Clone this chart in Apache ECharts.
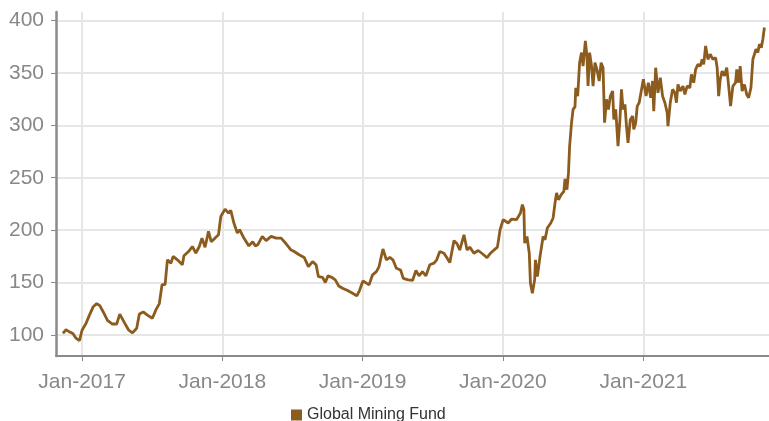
<!DOCTYPE html>
<html>
<head>
<meta charset="utf-8">
<script src="https://cdn.jsdelivr.net/npm/echarts@6/dist/echarts.min.js"></script>
<style>
html,body{margin:0;padding:0;background:#fff;}
#chart{width:769px;height:421px;}
</style>
</head>
<body>
<div id="chart"></div>
<script>
const seriesName = 'Global Mining Fund';
const dates = [
'2016-11-12','2016-11-20','2016-11-29','2016-12-08','2016-12-16','2016-12-25',
'2017-01-01','2017-01-11','2017-01-20','2017-01-30','2017-02-08','2017-02-16','2017-02-25','2017-03-08','2017-03-21','2017-04-01','2017-04-09','2017-04-21','2017-05-02','2017-05-12','2017-05-23','2017-05-30','2017-06-09','2017-06-20','2017-07-03','2017-07-12','2017-07-21','2017-07-28','2017-08-05','2017-08-11','2017-08-20','2017-08-26','2017-09-06','2017-09-19','2017-09-23','2017-10-05','2017-10-15','2017-10-24','2017-11-02','2017-11-09','2017-11-17','2017-11-26','2017-12-03','2017-12-13','2017-12-22','2017-12-28',
'2018-01-08','2018-01-17','2018-01-23','2018-01-31','2018-02-09','2018-02-15','2018-02-26','2018-03-11','2018-03-21','2018-03-28','2018-04-03','2018-04-15','2018-04-25','2018-05-08','2018-05-21','2018-06-03','2018-06-16','2018-06-29','2018-07-07','2018-07-20','2018-08-02','2018-08-13','2018-08-24','2018-09-02','2018-09-08','2018-09-19','2018-09-26','2018-10-03','2018-10-13','2018-10-22','2018-10-31','2018-11-10','2018-11-23','2018-12-06','2018-12-17','2018-12-24',
'2019-01-02','2019-01-18','2019-01-27','2019-02-06','2019-02-13','2019-02-23','2019-03-04','2019-03-13','2019-03-21','2019-03-30','2019-04-10','2019-04-17','2019-04-30','2019-05-11','2019-05-20','2019-05-28','2019-06-06','2019-06-15','2019-06-25','2019-07-06','2019-07-13','2019-07-21','2019-08-01','2019-08-08','2019-08-16','2019-08-27','2019-09-04','2019-09-11','2019-09-22','2019-09-30','2019-10-07','2019-10-18','2019-10-29','2019-11-09','2019-11-21','2019-11-30','2019-12-09','2019-12-18','2019-12-25',
'2020-01-02','2020-01-15','2020-01-24','2020-02-06','2020-02-16','2020-02-21','2020-02-25','2020-02-27','2020-03-04','2020-03-10','2020-03-13','2020-03-18','2020-03-24','2020-03-26','2020-03-31','2020-04-07','2020-04-11','2020-04-15','2020-04-20','2020-04-26','2020-05-05','2020-05-11','2020-05-16','2020-05-20','2020-05-25','2020-06-01','2020-06-08','2020-06-11','2020-06-16','2020-06-20','2020-06-23','2020-06-28','2020-07-02','2020-07-07','2020-07-09','2020-07-14','2020-07-19','2020-07-24','2020-07-28','2020-08-03','2020-08-07','2020-08-10','2020-08-14','2020-08-19','2020-08-23','2020-08-28','2020-09-02','2020-09-08','2020-09-13','2020-09-18','2020-09-22','2020-09-27','2020-10-02','2020-10-07','2020-10-13','2020-10-16','2020-10-21','2020-10-27','2020-11-01','2020-11-05','2020-11-09','2020-11-14','2020-11-18','2020-11-22','2020-11-28','2020-12-04','2020-12-07','2020-12-12','2020-12-16','2020-12-21',
'2021-01-01','2021-01-08','2021-01-14','2021-01-20','2021-01-25','2021-01-28','2021-02-02','2021-02-08','2021-02-14','2021-02-20','2021-02-26','2021-03-04','2021-03-06','2021-03-12','2021-03-18','2021-03-24','2021-03-28','2021-04-01','2021-04-07','2021-04-14','2021-04-19','2021-04-25','2021-05-02','2021-05-06','2021-05-12','2021-05-17','2021-05-23','2021-05-29','2021-06-03','2021-06-07','2021-06-12','2021-06-18','2021-06-24','2021-07-01','2021-07-08','2021-07-12','2021-07-16','2021-07-20','2021-07-25','2021-07-31','2021-08-06','2021-08-11','2021-08-16','2021-08-22','2021-08-29','2021-09-01','2021-09-06','2021-09-10','2021-09-15','2021-09-21','2021-09-27','2021-10-02','2021-10-08','2021-10-13','2021-10-17','2021-10-21','2021-10-26','2021-10-30','2021-11-04','2021-11-08','2021-11-12'
];
const values = [
101.6,105,103,101.5,97,94.6,
104.8,111,119,127,130,128,122,114,110.5,110.5,120,111.8,104.8,102,106.4,120,122,119,116,124,130,148,148,171.7,168.5,175,171.7,167,175.5,179.6,184.4,178,184.4,192.4,183.7,198.8,189,192.4,195.6,213,
220,216.4,218.8,206.8,197.3,200.4,192.4,185,189,185,186,194,190,194,192.4,192.4,187,181,179.6,176.5,174,165.3,170,167,155.8,155,150,156.4,155,152.6,146.8,144.6,142.4,139.8,137.3,142.4,
151.6,147.8,157.4,160.5,165.3,182,171.7,174,171.7,163.7,162,154,152.6,152,161.5,156.4,160.5,156.4,167,168.5,171.7,179.6,178,174,169,190,187,181,195.6,181,183.8,178,180.6,177.5,173.7,178,181,183.8,200.4,
210,206.8,210.6,210,216.4,224.3,219.5,187.6,194,178,149.4,139.8,152.6,171.7,155.8,175,184.4,194,190.8,202,206.8,211.6,225.9,235.5,229,233.8,237,248.8,238.6,254.6,280,302.4,315.1,317.6,335.8,327.8,359.7,369.3,356.5,380.4,366,337.4,369.3,356.5,337.4,359.7,353.3,342.2,359.7,354.9,302.4,324.7,315.1,327.8,332.6,305.5,315.1,280,305.5,334.2,315.1,319.9,299.2,283.3,305.5,308.7,296,302.4,318.3,321.5,
343.8,327.8,340.6,326.2,342.2,313.5,354.9,331,345.4,327.8,321.5,311.9,299.2,321.5,334.2,331,321.5,338.9,332.6,337.4,329.4,337.4,335.8,348.6,340.6,353.3,358.1,356.5,362.9,358.1,375.6,362.9,367.7,362.9,364.5,354.9,327.8,343.8,351.7,347,354.9,337.4,318.3,337.4,340.6,353.3,340.6,356.5,332.6,338.9,329.4,326.2,335.8,362.9,364.5,372.5,369.3,377.2,374,382,393.2
];
const yTicks = [100, 150, 200, 250, 300, 350, 400];
const xTickDates = ['2017-01-01', '2018-01-01', '2019-01-01', '2020-01-01', '2021-01-01'];
const xMin = '2016-10-25';
const xMax = '2021-11-24';
const yMin = 80;
const yMax = 408;

const toTs = s => { const p = s.split('-').map(Number); return Date.UTC(p[0], p[1]-1, p[2]); };
const data = dates.map((d, i) => [toTs(d), values[i]]);
const xTicks = xTickDates.map(toTs);

const chart = echarts.init(document.getElementById('chart'), null, {renderer: 'canvas'});
const axisGray = '#8a8a8a';
const labelGray = '#888888';
const font = 'Liberation Sans, Arial, sans-serif';
chart.setOption({
  animation: false,
  backgroundColor: '#ffffff',
  grid: {left: 56, right: 0, top: 12, bottom: 65, containLabel: false},
  legend: {
    show: true,
    data: [seriesName],
    left: 291, top: 407,
    padding: 0,
    itemWidth: 11, itemHeight: 11, itemGap: 5,
    icon: 'rect',
    textStyle: {fontFamily: font, fontSize: 16, color: '#333333'}
  },
  xAxis: {
    type: 'value',
    min: toTs(xMin), max: toTs(xMax),
    axisLine: {show: true, onZero: false, lineStyle: {color: axisGray, width: 2}},
    axisTick: {show: true, customValues: xTicks, length: 5, lineStyle: {color: axisGray, width: 1}},
    axisLabel: {
      show: true, customValues: xTicks, margin: 16,
      fontFamily: font, fontSize: 21, color: labelGray,
      formatter: v => 'Jan-' + new Date(v).getUTCFullYear()
    },
    splitLine: {show: true, lineStyle: {color: '#e6e6e6', width: 2}}
  },
  yAxis: {
    type: 'value',
    min: yMin, max: yMax,
    axisLine: {show: true, lineStyle: {color: axisGray, width: 2.5}},
    axisTick: {show: true, customValues: yTicks, length: 5, lineStyle: {color: axisGray, width: 1}},
    axisLabel: {
      show: true, customValues: yTicks, margin: 12,
      fontFamily: font, fontSize: 21, color: labelGray
    },
    splitLine: {show: true, lineStyle: {color: '#e6e6e6', width: 2}}
  },
  series: [{
    name: seriesName,
    type: 'line',
    data: data,
    showSymbol: false,
    symbol: 'none',
    lineStyle: {color: '#8c5b1e', width: 2.8},
    itemStyle: {color: '#8c5b1e'}
  }]
});
</script>
</body>
</html>
